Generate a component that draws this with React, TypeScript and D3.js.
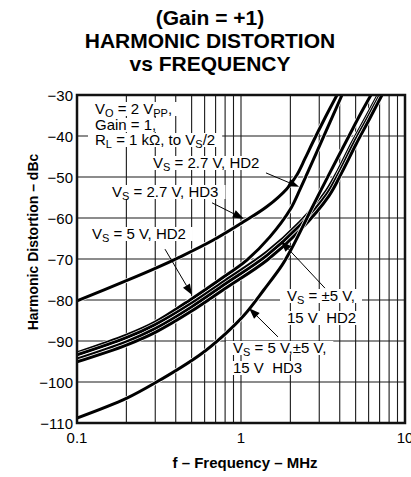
import React, { useEffect, useRef } from 'react';
import * as d3 from 'd3';

const W = 411;
const H = 477;

// axes
const xTicks = [0.1, 1, 10];
const xTickLabels = ['0.1', '1', '10'];
const yTicks = [-30, -40, -50, -60, -70, -80, -90, -100, -110];
const yTickLabels = ['\u221230', '\u221240', '\u221250', '\u221260', '\u221270', '\u221280', '\u221290', '\u2212100', '\u2212110'];

// curves (MHz, dBc)
const fHd3_27 = [0.1, 0.2, 0.3, 0.42, 0.67, 1.03, 1.44, 1.9, 2.19, 2.45, 2.75, 3.25, 3.85];
const vHd3_27 = [-80.2, -75.3, -72.3, -69.6, -65.5, -61, -57.2, -52.9, -49.5, -45.6, -41.4, -35.6, -30];

const fHd2_27 = [0.1, 0.2, 0.3, 0.51, 0.745, 1.09, 1.5, 1.99, 2.29, 2.53, 2.95, 3.49, 4.13];
const vHd2_27 = [-92.9, -88.6, -85.4, -79.5, -75, -70.2, -64.6, -58, -53, -49.2, -43.2, -36.6, -30];

const fHd2_5 = [0.1, 0.2, 0.3, 0.5, 0.8, 1.44, 2.29, 3.25, 3.9, 4.75, 5.7, 6.85];
const vHd2_5 = [-93.4, -89.2, -86, -80.8, -75.3, -68.3, -61, -53.9, -48.5, -41.7, -35.9, -30];

const fHd2_pm5 = [0.1, 0.2, 0.3, 0.5, 0.8, 1.44, 2.29, 3.35, 4.02, 4.89, 5.87, 7.04];
const vHd2_pm5 = [-94.4, -90.2, -87, -81.7, -76.1, -69.1, -61.8, -54.1, -48.5, -41.7, -35.9, -30];

const fHd2_15 = [0.1, 0.2, 0.3, 0.5, 0.8, 1.44, 2.29, 3.44, 4.13, 5.03, 6.03, 7.24];
const vHd2_15 = [-95.1, -91, -87.9, -82.7, -77.2, -70.3, -63, -54.6, -48.8, -42, -36.1, -30];

const fHd3_5 = [0.1, 0.2, 0.3, 0.56, 0.8, 1.05, 1.38, 1.78, 2.05, 2.75, 3.25, 3.85, 4.62, 5.39, 6.2];
const vHd3_5 = [-108.8, -104, -100.2, -93.4, -88.3, -83.6, -77.5, -71.5, -67.2, -57, -51.3, -45.6, -39.5, -34.4, -30];

const curves = [
  { f: fHd3_27, v: vHd3_27 },
  { f: fHd2_27, v: vHd2_27 },
  { f: fHd2_5, v: vHd2_5 },
  { f: fHd2_pm5, v: vHd2_pm5 },
  { f: fHd2_15, v: vHd2_15 },
  { f: fHd3_5, v: vHd3_5 },
];

// annotation texts: [text, isSubscript]
const labels: { x: number; y: number; parts: [string, number?][] }[] = [
  { x: 95, y: 114, parts: [['V'], ['O', 1], [' = 2 V'], ['PP', 1], [',']] },
  { x: 95, y: 130, parts: [['Gain = 1,']] },
  { x: 95, y: 145, parts: [['R'], ['L', 1], [' = 1 k\u03a9, to V'], ['S', 1], ['/2']] },
  { x: 153, y: 168, parts: [['V'], ['S', 1], [' = 2.7 V, HD2']] },
  { x: 112, y: 197, parts: [['V'], ['S', 1], [' = 2.7 V, HD3']] },
  { x: 92, y: 239, parts: [['V'], ['S', 1], [' = 5 V, HD2']] },
  { x: 287, y: 301, parts: [['V'], ['S', 1], [' = \u00b15 V,']] },
  { x: 287, y: 323, parts: [['15 V  HD2']] },
  { x: 233, y: 353, parts: [['V'], ['S', 1], [' = 5 V,\u00b15 V,']] },
  { x: 233, y: 373, parts: [['15 V  HD3']] },
];

// arrows in data units: from [f, dB] to tip [f, dB]
const arrows = [
  [[1.42, -49.0], [2.26, -52.4]],
  [[0.666, -56.3], [1.04, -60.2]],
  [[0.344, -67.6], [0.503, -78.8]],
  [[3.25, -77.1], [1.75, -65.6]],
  [[1.68, -89.0], [1.12, -82.0]],
];

const FONT = '"Liberation Sans", Arial, Helvetica, sans-serif';

const App = () => {
  const ref = useRef<SVGSVGElement>(null);

  useEffect(() => {
    const svg = d3.select(ref.current);
    svg.selectAll('*').remove();

    const x = d3.scaleLog().domain([0.1, 10]).range([77, 405]);
    const y = d3.scaleLinear().domain([-110, -30]).range([423, 95]);

    // title
    const title = ['(Gain = +1)', 'HARMONIC DISTORTION', 'vs FREQUENCY'];
    const titleY = [25, 48, 71];
    title.forEach((t, i) => {
      svg.append('text')
        .attr('x', 210).attr('y', titleY[i])
        .attr('text-anchor', 'middle')
        .style('font-family', FONT).style('font-weight', 'bold').style('font-size', '21px')
        .text(t);
    });

    // grid
    const g = svg.append('g');
    const vx: number[] = [];
    [0.1, 1].forEach(d => { for (let k = 2; k <= 9; k++) vx.push(k * d); });
    vx.push(1);
    g.selectAll('.vg').data(vx).join('line')
      .attr('x1', d => x(d)).attr('x2', d => x(d))
      .attr('y1', y(-30)).attr('y2', y(-110))
      .attr('stroke', '#1a1a1a').attr('stroke-width', 1.1);
    g.selectAll('.hg').data(yTicks.slice(1, -1)).join('line')
      .attr('x1', x(0.1)).attr('x2', x(10))
      .attr('y1', d => y(d)).attr('y2', d => y(d))
      .attr('stroke', '#1a1a1a').attr('stroke-width', 1.1);

    // label backgrounds + text
    const bg = svg.append('g');
    const curveG = svg.append('g');
    const txtG = svg.append('g');
    labels.forEach(l => {
      const t = txtG.append('text')
        .attr('x', l.x).attr('y', l.y)
        .style('font-family', FONT).style('font-size', '15px')
        .style('white-space', 'pre');
      let prevSub = false;
      l.parts.forEach(p => {
        const s = t.append('tspan').text(p[0]);
        if (p[1]) {
          s.attr('dy', 3).style('font-size', '11px');
          prevSub = true;
        } else if (prevSub) {
          s.attr('dy', -3);
          prevSub = false;
        }
      });
      const node = t.node() as SVGTextElement;
      const w = node.getComputedTextLength();
      bg.append('rect')
        .attr('x', l.x - 7).attr('y', l.y - 12)
        .attr('width', w + 14).attr('height', 14)
        .attr('fill', 'white');
    });

    // curves
    const line = d3.line<[number, number]>()
      .x(d => x(d[0])).y(d => y(d[1]))
      .curve(d3.curveCatmullRom.alpha(0.5));
    svg.append('defs').append('clipPath').attr('id', 'plotclip')
      .append('rect').attr('x', 77).attr('y', 95).attr('width', 328).attr('height', 328);
    curveG.attr('clip-path', 'url(#plotclip)');
    curves.forEach(c => {
      const pts = c.f.map((f, i) => [f, c.v[i]] as [number, number]);
      curveG.append('path').datum(pts).attr('d', line)
        .attr('fill', 'none').attr('stroke', 'white').attr('stroke-width', 4.4);
      curveG.append('path').datum(pts).attr('d', line)
        .attr('fill', 'none').attr('stroke', 'black').attr('stroke-width', 3);
    });

    // arrows
    arrows.forEach(a => {
      const x0 = x(a[0][0]), y0 = y(a[0][1]);
      const x1 = x(a[1][0]), y1 = y(a[1][1]);
      const ang = Math.atan2(y1 - y0, x1 - x0);
      const L = 11, hw = 4;
      const bx = x1 - L * Math.cos(ang), by = y1 - L * Math.sin(ang);
      txtG.append('line')
        .attr('x1', x0).attr('y1', y0).attr('x2', bx).attr('y2', by)
        .attr('stroke', 'black').attr('stroke-width', 1);
      const p1 = [bx + hw * Math.sin(ang), by - hw * Math.cos(ang)];
      const p2 = [bx - hw * Math.sin(ang), by + hw * Math.cos(ang)];
      txtG.append('path')
        .attr('d', `M${x1},${y1}L${p1[0]},${p1[1]}L${p2[0]},${p2[1]}Z`)
        .attr('fill', 'black');
    });

    // frame
    svg.append('rect')
      .attr('x', 77).attr('y', 95).attr('width', 328).attr('height', 328)
      .attr('fill', 'none').attr('stroke', '#111').attr('stroke-width', 2.5);

    // tick labels
    svg.selectAll('.yt').data(yTicks).join('text')
      .attr('x', 73).attr('y', d => y(d) + 5.5)
      .attr('text-anchor', 'end')
      .style('font-family', FONT).style('font-size', '15px')
      .text((d, i) => yTickLabels[i]);
    svg.selectAll('.xt').data(xTicks).join('text')
      .attr('x', d => x(d)).attr('y', 443)
      .attr('text-anchor', 'middle')
      .style('font-family', FONT).style('font-size', '15px')
      .text((d, i) => xTickLabels[i]);

    // axis titles
    svg.append('text')
      .attr('x', 245).attr('y', 468)
      .attr('text-anchor', 'middle')
      .style('font-family', FONT).style('font-weight', 'bold').style('font-size', '15px')
      .text('f \u2013 Frequency \u2013 MHz');
    svg.append('text')
      .attr('transform', 'translate(38,242) rotate(-90)')
      .attr('text-anchor', 'middle')
      .style('font-family', FONT).style('font-weight', 'bold').style('font-size', '14px')
      .text('Harmonic Distortion \u2013 dBc');
  }, []);

  return (
    <svg
      ref={ref}
      width={W}
      height={H}
      style={{ position: 'absolute', left: 0, top: 0, background: 'white' }}
    />
  );
};

export default App;
